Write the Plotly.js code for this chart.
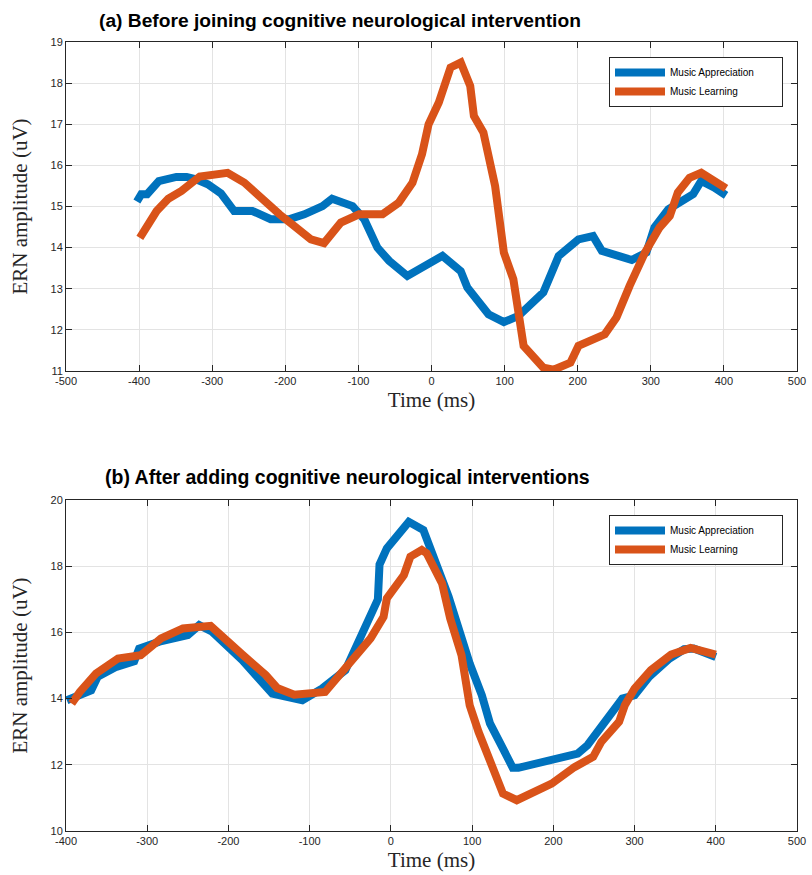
<!DOCTYPE html>
<html>
<head>
<meta charset="utf-8">
<script src="https://cdn.plot.ly/plotly-3.0.1.min.js"></script>
<style>html,body{margin:0;padding:0;background:#fff;}#chart{width:812px;height:875px;}</style>
</head>
<body>
<div id="chart"></div>
<script>
// Panel (a): before intervention
const aAppX = [-403,-397,-389,-373,-349,-335,-322,-306,-288,-270,-245,-220,-195,-174,-149,-136,-108,-92,-74,-58,-33,-8,15,40,49,78,99,119,153,174,201,221,233,274,294,305,324,358,369,387,403];
const aAppY = [15.12,15.30,15.30,15.62,15.72,15.72,15.66,15.54,15.32,14.89,14.89,14.69,14.69,14.81,15.01,15.19,15.01,14.69,14.00,13.68,13.31,13.58,13.80,13.43,13.03,12.38,12.19,12.34,12.91,13.80,14.20,14.28,13.92,13.70,13.88,14.49,14.93,15.30,15.62,15.46,15.27];
const aLrnX = [-399,-376,-360,-342,-317,-279,-256,-233,-208,-188,-165,-147,-124,-99,-67,-45,-26,-13,-8,-4,10,26,40,53,58,71,87,99,112,126,153,167,190,201,237,253,271,292,312,326,337,353,369,403];
const aLrnY = [14.24,14.89,15.19,15.38,15.73,15.82,15.58,15.19,14.81,14.53,14.20,14.11,14.61,14.81,14.81,15.09,15.58,16.27,16.85,17.0,17.53,18.38,18.50,17.93,17.20,16.80,15.50,13.88,13.23,11.61,11.08,11.03,11.2,11.61,11.89,12.30,13.07,13.88,14.49,14.77,15.34,15.70,15.82,15.44];
// Panel (b): after intervention
const bAppX = [-399,-369,-361,-338,-316,-310,-285,-250,-236,-220,-183,-146,-109,-85,-56,-36,-16,-14,-5,22,40,71,97,112,122,138,150,157,185,206,230,242,285,300,318,343,361,373,400];
const bAppY = [13.95,14.25,14.66,14.96,15.13,15.51,15.72,15.92,16.22,16.02,15.16,14.15,13.95,14.30,14.86,15.92,17.0,18.05,18.54,19.34,19.09,17.08,15.06,14.10,13.25,12.49,11.91,11.91,12.09,12.24,12.34,12.59,14.0,14.10,14.66,15.21,15.49,15.51,15.26];
const bLrnX = [-393,-383,-363,-336,-308,-283,-256,-222,-183,-154,-140,-119,-81,-58,-25,-9,-5,16,24,38,44,63,73,87,97,108,138,155,177,198,226,249,259,281,288,300,320,345,369,400];
const bLrnY = [13.85,14.20,14.76,15.21,15.31,15.82,16.12,16.20,15.33,14.71,14.32,14.12,14.20,14.86,15.82,16.47,17.03,17.73,18.29,18.49,18.39,17.48,16.42,15.31,13.80,12.99,11.13,10.93,11.18,11.43,11.93,12.24,12.69,13.30,13.80,14.30,14.86,15.33,15.53,15.33];

// Tick labels (hyphen minus, as in the original)
const aXTicks = [-500,-400,-300,-200,-100,0,100,200,300,400,500];
const aXLabels = ['-500','-400','-300','-200','-100','0','100','200','300','400','500'];
const bXTicks = [-400,-300,-200,-100,0,100,200,300,400,500];
const bXLabels = ['-400','-300','-200','-100','0','100','200','300','400','500'];

const seriesNames = ['Music Appreciation', 'Music Learning'];
const titles = ['(a) Before joining cognitive neurological intervention', '(b) After adding cognitive neurological interventions'];
const xTitle = 'Time (ms)';
const yTitle = 'ERN amplitude (uV)';

const BLUE = '#0072BD', ORANGE = '#D95319';
const LW = 8;
const PAD = '\u00a0\u00a0\u00a0\u00a0\u00a0\u00a0\u00a0\u00a0';

const traces = [
  {x: aAppX, y: aAppY, name: seriesNames[0] + PAD, mode: 'lines', line: {color: BLUE, width: LW}, xaxis: 'x', yaxis: 'y', legend: 'legend'},
  {x: aLrnX, y: aLrnY, name: seriesNames[1], mode: 'lines', line: {color: ORANGE, width: LW}, xaxis: 'x', yaxis: 'y', legend: 'legend'},
  {x: bAppX, y: bAppY, name: seriesNames[0] + PAD, mode: 'lines', line: {color: BLUE, width: LW}, xaxis: 'x2', yaxis: 'y2', legend: 'legend2'},
  {x: bLrnX, y: bLrnY, name: seriesNames[1], mode: 'lines', line: {color: ORANGE, width: LW}, xaxis: 'x2', yaxis: 'y2', legend: 'legend2'}
];

const axBase = {
  showline: true, linecolor: '#262626', linewidth: 1, mirror: 'ticks',
  ticks: 'inside', ticklen: 6, tickcolor: '#262626', tickwidth: 1,
  showgrid: true, gridcolor: '#e3e3e3', gridwidth: 1, zeroline: false,
  tickfont: {family: 'Liberation Sans, Arial, sans-serif', size: 11, color: '#262626'},
  fixedrange: true
};
const titleFont = {family: 'Liberation Serif, Times New Roman, serif', size: 21, color: '#262626'};
const xT = {text: xTitle, font: titleFont, standoff: 6};
const yT = {text: yTitle, font: titleFont, standoff: 17};

const legBase = {
  bgcolor: '#ffffff', bordercolor: '#262626', borderwidth: 1,
  font: {family: 'Liberation Sans, Arial, sans-serif', size: 10, color: '#000'},
  xanchor: 'left', yanchor: 'top', tracegroupgap: 0, itemwidth: 50
};

const layout = {
  width: 812, height: 875,
  margin: {l: 66, r: 15, t: 0, b: 0},
  paper_bgcolor: '#ffffff', plot_bgcolor: '#ffffff',
  showlegend: true,
  xaxis: Object.assign({}, axBase, {domain: [0, 1], anchor: 'y', range: [-500, 500], tickvals: aXTicks, ticktext: aXLabels, title: xT}),
  yaxis: Object.assign({}, axBase, {domain: [1 - 371/875, 1 - 42/875], anchor: 'x', range: [11, 19], dtick: 1, title: yT}),
  xaxis2: Object.assign({}, axBase, {domain: [0, 1], anchor: 'y2', range: [-400, 500], tickvals: bXTicks, ticktext: bXLabels, title: xT}),
  yaxis2: Object.assign({}, axBase, {domain: [1 - 831/875, 1 - 500/875], anchor: 'x2', range: [10, 20], dtick: 2, title: yT}),
  legend: Object.assign({}, legBase, {x: (609 - 66)/731, y: 1 - 57/875}),
  legend2: Object.assign({}, legBase, {x: (609 - 66)/731, y: 1 - 515/875}),
  annotations: [
    {text: '<b>' + titles[0] + '</b>', xref: 'paper', yref: 'paper', x: (97 - 66)/731, y: 1 - 20/875, xanchor: 'left', yanchor: 'middle', showarrow: false,
     font: {family: 'Liberation Sans, Arial, sans-serif', size: 19.2, color: '#000'}},
    {text: '<b>' + titles[1] + '</b>', xref: 'paper', yref: 'paper', x: (103 - 66)/731, y: 1 - 477/875, xanchor: 'left', yanchor: 'middle', showarrow: false,
     font: {family: 'Liberation Sans, Arial, sans-serif', size: 19.5, color: '#000'}}
  ]
};

Plotly.newPlot('chart', traces, layout, {displayModeBar: false, staticPlot: true});
</script>
</body>
</html>
